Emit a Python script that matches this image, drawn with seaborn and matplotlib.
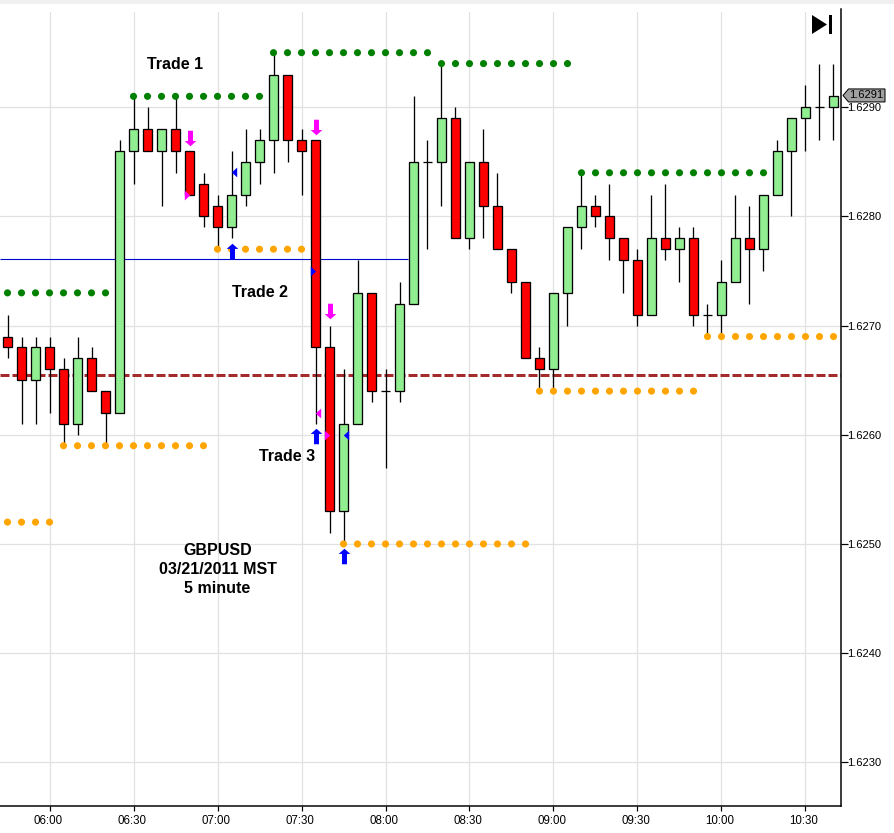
# Recreate GBPUSD 5 minute candlestick chart with trade markers
import matplotlib
matplotlib.use('Agg')
import numpy as np
import pandas as pd
import matplotlib.pyplot as plt
import seaborn as sns
from matplotlib.patches import Polygon, Rectangle
from matplotlib.path import Path
from matplotlib.transforms import ScaledTranslation

# Candles, one per 5 minutes starting at 05:45
opens = [1.6269, 1.6268, 1.6265, 1.6268, 1.6266, 1.6261, 1.6267, 1.6264, 1.6262, 1.6286,
         1.6288, 1.6286, 1.6288, 1.6286, 1.6283, 1.6281, 1.6279, 1.6282, 1.6285, 1.6287,
         1.6293, 1.6287, 1.6287, 1.6268, 1.6253, 1.6261, 1.6273, 1.6264, 1.6264, 1.6272,
         1.6285, 1.6285, 1.6289, 1.6278, 1.6285, 1.6281, 1.6277, 1.6274, 1.6267, 1.6266,
         1.6273, 1.6279, 1.6281, 1.6280, 1.6278, 1.6276, 1.6271, 1.6278, 1.6277, 1.6278,
         1.6271, 1.6271, 1.6274, 1.6278, 1.6277, 1.6282, 1.6286, 1.6289, 1.6290, 1.6290]
closes = [1.6268, 1.6265, 1.6268, 1.6266, 1.6261, 1.6267, 1.6264, 1.6262, 1.6286, 1.6288,
          1.6286, 1.6288, 1.6286, 1.6282, 1.6280, 1.6279, 1.6282, 1.6285, 1.6287, 1.6293,
          1.6287, 1.6286, 1.6268, 1.6253, 1.6261, 1.6273, 1.6264, 1.6264, 1.6272, 1.6285,
          1.6285, 1.6289, 1.6278, 1.6285, 1.6281, 1.6277, 1.6274, 1.6267, 1.6266, 1.6273,
          1.6279, 1.6281, 1.6280, 1.6278, 1.6276, 1.6271, 1.6278, 1.6277, 1.6278, 1.6271,
          1.6271, 1.6274, 1.6278, 1.6277, 1.6282, 1.6286, 1.6289, 1.6290, 1.6290, 1.6291]
highs = [1.6271, 1.6269, 1.6269, 1.6269, 1.6267, 1.6269, 1.6268, 1.6264, 1.6287, 1.6291,
         1.6290, 1.6288, 1.6291, 1.6286, 1.6284, 1.6282, 1.6286, 1.6288, 1.6288, 1.6295,
         1.6293, 1.6288, 1.6287, 1.6270, 1.6266, 1.6276, 1.6273, 1.6266, 1.6274, 1.6291,
         1.6287, 1.6294, 1.6290, 1.6285, 1.6288, 1.6284, 1.6277, 1.6274, 1.6268, 1.6273,
         1.6279, 1.6284, 1.6282, 1.6283, 1.6278, 1.6277, 1.6282, 1.6283, 1.6279, 1.6279,
         1.6272, 1.6276, 1.6282, 1.6281, 1.6282, 1.6287, 1.6289, 1.6292, 1.6294, 1.6294]
lows = [1.6267, 1.6261, 1.6261, 1.6262, 1.6259, 1.6260, 1.6264, 1.6259, 1.6262, 1.6283,
        1.6286, 1.6281, 1.6284, 1.6282, 1.6279, 1.6277, 1.6278, 1.6281, 1.6283, 1.6284,
        1.6285, 1.6282, 1.6261, 1.6251, 1.6250, 1.6261, 1.6263, 1.6257, 1.6263, 1.6272,
        1.6277, 1.6281, 1.6278, 1.6277, 1.6278, 1.6277, 1.6273, 1.6267, 1.6264, 1.6264,
        1.6270, 1.6277, 1.6279, 1.6276, 1.6273, 1.6270, 1.6271, 1.6276, 1.6274, 1.6270,
        1.6269, 1.6269, 1.6274, 1.6272, 1.6275, 1.6282, 1.6280, 1.6286, 1.6287, 1.6287]

# Stop levels: (first bar, last bar, price)
green_levels = [(0, 7, 1.6273), (9, 18, 1.6291), (19, 30, 1.6295), (31, 40, 1.6294), (41, 54, 1.6284)]
orange_levels = [(0, 3, 1.6252), (4, 14, 1.6259), (15, 21, 1.6277), (24, 37, 1.6250),
                 (38, 49, 1.6264), (50, 59, 1.6269)]

# Trade signals: bar index, price
sell_arrow_x = [13, 22, 23]
sell_arrow_y = [1.62872, 1.62882, 1.62713]
buy_arrow_x = [16, 22, 24]
buy_arrow_y = [1.62768, 1.62599, 1.62489]
tri_right_magenta = ([12.82, 22.8], [1.6282, 1.6260])
tri_left_blue = ([16.19, 24.18], [1.62841, 1.6260])
tri_right_blue = ([21.8], [1.62750])
tri_left_magenta = ([22.18], [1.62620])

support_level = 1.62761
support_end = 28.6
brown_level = 1.62655

y_ticks = [1.6230, 1.6240, 1.6250, 1.6260, 1.6270, 1.6280, 1.6290]
x_tick_bars = [3, 9, 15, 21, 27, 33, 39, 45, 51, 57]
x_tick_labels = ['06:00', '06:30', '07:00', '07:30', '08:00', '08:30', '09:00', '09:30', '10:00', '10:30']

candles = pd.DataFrame({'open': opens, 'close': closes, 'high': highs, 'low': lows})
candles['bar'] = candles.index

rows = []
for level_name, levels in [('high', green_levels), ('low', orange_levels)]:
    for first, last, price in levels:
        for bar in range(first, last + 1):
            rows.append({'bar': bar, 'price': price, 'kind': level_name})
dots = pd.DataFrame(rows)

sns.set_theme(style='white')
plt.rcParams['font.family'] = ['Liberation Sans', 'DejaVu Sans']

W, H = 894, 833
PX = 0.72  # one pixel in points at dpi 100
fig = plt.figure(figsize=(W / 100, H / 100), dpi=100)
left, right, top, bottom = 0, 841, 9, 806
ax = fig.add_axes([left / W, 1 - bottom / H, (right - left) / W, (bottom - top) / H])
ax.set_xlim(-0.536, 59.536)
ax.set_ylim(1.6226, 1.6299)

# grey strip along the top of the window, gridlines start a little below it
fig.add_artist(Rectangle((0, 1 - 4 / H), 1, 4 / H, transform=fig.transFigure, color='#f0f0f0', lw=0))
fig.add_artist(Rectangle((0, 1 - 12 / H), 840 / W, 8 / H, transform=fig.transFigure, color='white', lw=0))

ax.grid(True, color='#e1e1e1', linewidth=1.2 * PX)
ax.set_axisbelow(True)

# horizontal levels sit behind the candles
ax.hlines(support_level, -0.536, support_end, color='#0000cd', linewidth=1.1 * PX, zorder=1.5)
ax.axhline(brown_level, color='#a52a2a', linewidth=3 * PX, linestyle=(0, (3, 1)), zorder=1.8)

# wicks then bodies
ax.vlines(candles['bar'], candles['low'], candles['high'], color='black', linewidth=1.3 * PX, zorder=2)
body_colors = np.where(candles['close'] > candles['open'], 'lightgreen', 'red')
body_bottom = candles[['open', 'close']].min(axis=1)
body_height = (candles['close'] - candles['open']).abs()
ax.bar(candles['bar'], body_height, bottom=body_bottom, width=0.6, color=body_colors,
       edgecolor='black', linewidth=1.3 * PX, zorder=3)

# stop dots
sns.scatterplot(data=dots, x='bar', y='price', hue='kind',
                palette={'high': '#008000', 'low': '#ffa500'},
                s=26, linewidth=0, legend=False, ax=ax, zorder=5)

# arrows and small triangles drawn as custom markers
down_arrow = Path([(-0.32, 1), (0.32, 1), (0.32, -0.33), (0.75, -0.33), (0, -1), (-0.75, -0.33), (-0.32, -0.33), (-0.32, 1)], closed=True)
up_arrow = Path([(-0.32, -1), (0.32, -1), (0.32, 0.33), (0.75, 0.33), (0, 1), (-0.75, 0.33), (-0.32, 0.33), (-0.32, -1)], closed=True)
right_tri = Path([(-0.55, 1), (0.55, 0), (-0.55, -1), (-0.55, 1)], closed=True)
left_tri = Path([(0.55, 1), (-0.55, 0), (0.55, -1), (0.55, 1)], closed=True)
ax.scatter(sell_arrow_x, sell_arrow_y, marker=down_arrow, s=125, color='#ff00ff', linewidths=0, zorder=6)
ax.scatter(buy_arrow_x, buy_arrow_y, marker=up_arrow, s=125, color='#0000ff', linewidths=0, zorder=6)
ax.scatter(*tri_right_magenta, marker=right_tri, s=50, color='#ff00ff', linewidths=0, zorder=6)
ax.scatter(*tri_left_magenta, marker=left_tri, s=50, color='#ff00ff', linewidths=0, zorder=6)
ax.scatter(*tri_left_blue, marker=left_tri, s=50, color='#0000ff', linewidths=0, zorder=6)
ax.scatter(*tri_right_blue, marker=right_tri, s=50, color='#0000ff', linewidths=0, zorder=6)

# axes look
for side in ['top', 'left']:
    ax.spines[side].set_visible(False)
for side in ['right', 'bottom']:
    ax.spines[side].set_visible(True)
    ax.spines[side].set_color('black')
    ax.spines[side].set_linewidth(1.5 * PX)
ax.yaxis.tick_right()
ax.set_yticks(y_ticks)
ax.set_yticklabels([f'{t:.4f}' for t in y_ticks])
ax.set_xticks(x_tick_bars)
ax.set_xticklabels(x_tick_labels)
ax.tick_params(axis='y', right=True, length=7 * PX, width=1.2 * PX, pad=-0.5, labelsize=8, colors='black')
ax.tick_params(axis='x', bottom=True, length=5 * PX, width=1.2 * PX, pad=3, labelsize=8.3, colors='black')
shift = ScaledTranslation(-1.5 / 100, 0, fig.dpi_scale_trans)
for lab in ax.get_xticklabels():
    lab.set_transform(lab.get_transform() + shift)
ax.set_xlabel('')
ax.set_ylabel('')

# annotations
notes = [('Trade 1', 11.96, 1.62939), ('Trade 2', 18.0, 1.62730), ('Trade 3', 20.0, 1.62580)]
for label, x, y in notes:
    ax.text(x, y, label, fontsize=11.5, fontweight='bold', color='black', ha='center', va='center')
ax.text(15.0, 1.62477, 'GBPUSD\n03/21/2011 MST\n5 minute', fontsize=11.5, fontweight='bold',
        color='black', ha='center', va='center', linespacing=1.33)

# last price tag, placed in pixels next to the axis
tag_y = H - (top + (ax.get_ylim()[1] - closes[-1]) / (ax.get_ylim()[1] - ax.get_ylim()[0]) * (bottom - top)) + 0.9
tag = [(843, tag_y), (848.5, tag_y + 6.5), (885, tag_y + 6.5), (885, tag_y - 6.5), (848.5, tag_y - 6.5)]
fig.add_artist(Polygon([(x / W, y / H) for x, y in tag], closed=True, transform=fig.transFigure,
                       facecolor='#a0a0a0', edgecolor='black', linewidth=1 * PX))
fig.text(866.5 / W, tag_y / H, f'{closes[-1]:.4f}', fontsize=8, color='black', ha='center', va='center')

# skip-to-end button
button = [(812, 15), (827, 24.5), (812, 34)]
fig.add_artist(Polygon([(x / W, 1 - y / H) for x, y in button], closed=True, transform=fig.transFigure,
                       facecolor='black', edgecolor='none'))
fig.add_artist(Rectangle((829 / W, 1 - 34 / H), 2.5 / W, 19 / H, transform=fig.transFigure,
                         facecolor='black', edgecolor='none'))

fig.savefig('out.png', dpi=100)
